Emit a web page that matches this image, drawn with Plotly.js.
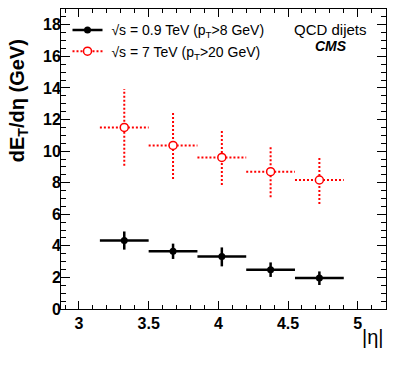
<!DOCTYPE html>
<html>
<head>
<meta charset="utf-8">
<script src="https://cdn.plot.ly/plotly-3.0.1.min.js"></script>
<style>html,body{margin:0;padding:0;background:#fff;}#chart{width:407px;height:365px;}</style>
</head>
<body>
<div id="chart"></div>
<script>
// |eta| bins
const etaLo = [3.15, 3.5, 3.85, 4.2, 4.55];
const etaHi = [3.5, 3.85, 4.2, 4.55, 4.9];
// sqrt(s) = 0.9 TeV (pT > 8 GeV)
const e09 = [4.34, 3.65, 3.33, 2.49, 1.96];
const e09Up = [0.57, 0.49, 0.57, 0.46, 0.42];
const e09Dn = [0.58, 0.48, 0.63, 0.46, 0.44];
// sqrt(s) = 7 TeV (pT > 20 GeV)
const e7 = [11.50, 10.36, 9.60, 8.70, 8.17];
const e7Up = [2.43, 2.15, 1.69, 1.64, 1.41];
const e7Dn = [2.42, 2.13, 1.75, 1.63, 1.52];

const xTickVals = [3, 3.5, 4, 4.5, 5];
const xTickText = ['3', '3.5', '4', '4.5', '5'];
const yTickVals = [0, 2, 4, 6, 8, 10, 12, 14, 16, 18];

const label09 = ' √s = 0.9 TeV (p<sub>T</sub>>8 GeV)';
const label7 = ' √s = 7 TeV (p<sub>T</sub>>20 GeV)';

const centers = etaLo.map((l, i) => (l + etaHi[i]) / 2);

function crosses(vals, up, dn) {
  const xs = [], ys = [];
  for (let i = 0; i < vals.length; i++) {
    xs.push(etaLo[i], etaHi[i], null, centers[i], centers[i], null);
    ys.push(vals[i], vals[i], null, vals[i] - dn[i], vals[i] + up[i], null);
  }
  return {x: xs, y: ys};
}

const c09 = crosses(e09, e09Up, e09Dn);
const c7 = crosses(e7, e7Up, e7Dn);

const red = '#ff0000';
const traces = [
  {x: c7.x, y: c7.y, mode: 'lines', line: {color: red, width: 2, dash: '2px,2px'}, showlegend: false, hoverinfo: 'skip'},
  {x: centers, y: e7, mode: 'markers', marker: {symbol: 'circle', size: 8, color: '#ffffff', line: {color: red, width: 1.5}}, showlegend: false},
  {x: c09.x, y: c09.y, mode: 'lines', line: {color: '#000', width: 2.5}, showlegend: false, hoverinfo: 'skip'},
  {x: centers, y: e09, mode: 'markers', marker: {symbol: 'circle', size: 7, color: '#000'}, showlegend: false},
  // legend entries
  {x: [null], y: [null], mode: 'lines+markers', name: label09, line: {color: '#000', width: 2.5}, marker: {size: 7, color: '#000'}},
  {x: [null], y: [null], mode: 'lines+markers', name: label7, line: {color: red, width: 2, dash: '2px,2px'}, marker: {symbol: 'circle', size: 8, color: '#fff', line: {color: red, width: 1.5}}}
];

const tickFont = {family: 'Liberation Sans, Arial, sans-serif', size: 16, color: '#000', weight: 'bold'};

const layout = {
  width: 407, height: 365,
  margin: {l: 61, r: 21, t: 9, b: 56},
  paper_bgcolor: '#fff', plot_bgcolor: '#fff',
  showlegend: true,
  legend: {x: 0.02, y: 0.982, xanchor: 'left', yanchor: 'top', bgcolor: 'rgba(0,0,0,0)',
    font: {family: 'Liberation Sans, Arial, sans-serif', size: 14, color: '#000'}, tracegroupgap: 0, itemwidth: 30},
  xaxis: {
    range: [2.871, 5.203], showgrid: false, zeroline: false,
    showline: true, linecolor: '#000', linewidth: 1, mirror: 'ticks',
    ticks: 'inside', ticklen: 8, tickwidth: 1, tickcolor: '#000',
    tickvals: xTickVals, ticktext: xTickText, tickfont: tickFont,
    minor: {dtick: 0.1, ticks: 'inside', ticklen: 4, tickcolor: '#000', showgrid: false}
  },
  yaxis: {
    range: [0, 19], showgrid: false, zeroline: false,
    showline: true, linecolor: '#000', linewidth: 1, mirror: 'ticks',
    ticks: 'inside', ticklen: 9, tickwidth: 1, tickcolor: '#000',
    tickvals: yTickVals, tickfont: tickFont, ticklabelstandoff: -4,
    minor: {dtick: 0.5, ticks: 'inside', ticklen: 5, tickcolor: '#000', showgrid: false}
  },
  annotations: [
    {xref: 'paper', yref: 'paper', x: -0.132, y: 0.693, xanchor: 'center', yanchor: 'middle', textangle: -90,
     text: 'dE<sub>T</sub>/dη (GeV)', showarrow: false,
     font: {family: 'Liberation Sans, Arial, sans-serif', size: 20, color: '#000', weight: 'bold'}},
    {xref: 'paper', yref: 'paper', x: 1, y: -0.092, xanchor: 'right', yanchor: 'middle',
     text: '|η|', showarrow: false,
     font: {family: 'Liberation Sans, Arial, sans-serif', size: 20, color: '#000'}},
    {xref: 'paper', yref: 'paper', x: 0.83, y: 0.933, xanchor: 'center', yanchor: 'middle',
     text: 'QCD dijets', showarrow: false,
     font: {family: 'Liberation Sans, Arial, sans-serif', size: 15, color: '#000'}},
    {xref: 'paper', yref: 'paper', x: 0.83, y: 0.877, xanchor: 'center', yanchor: 'middle',
     text: '<b><i>CMS</i></b>', showarrow: false,
     font: {family: 'Liberation Sans, Arial, sans-serif', size: 14, color: '#000'}}
  ]
};

Plotly.newPlot('chart', traces, layout, {displayModeBar: false, staticPlot: true});
</script>
</body>
</html>
